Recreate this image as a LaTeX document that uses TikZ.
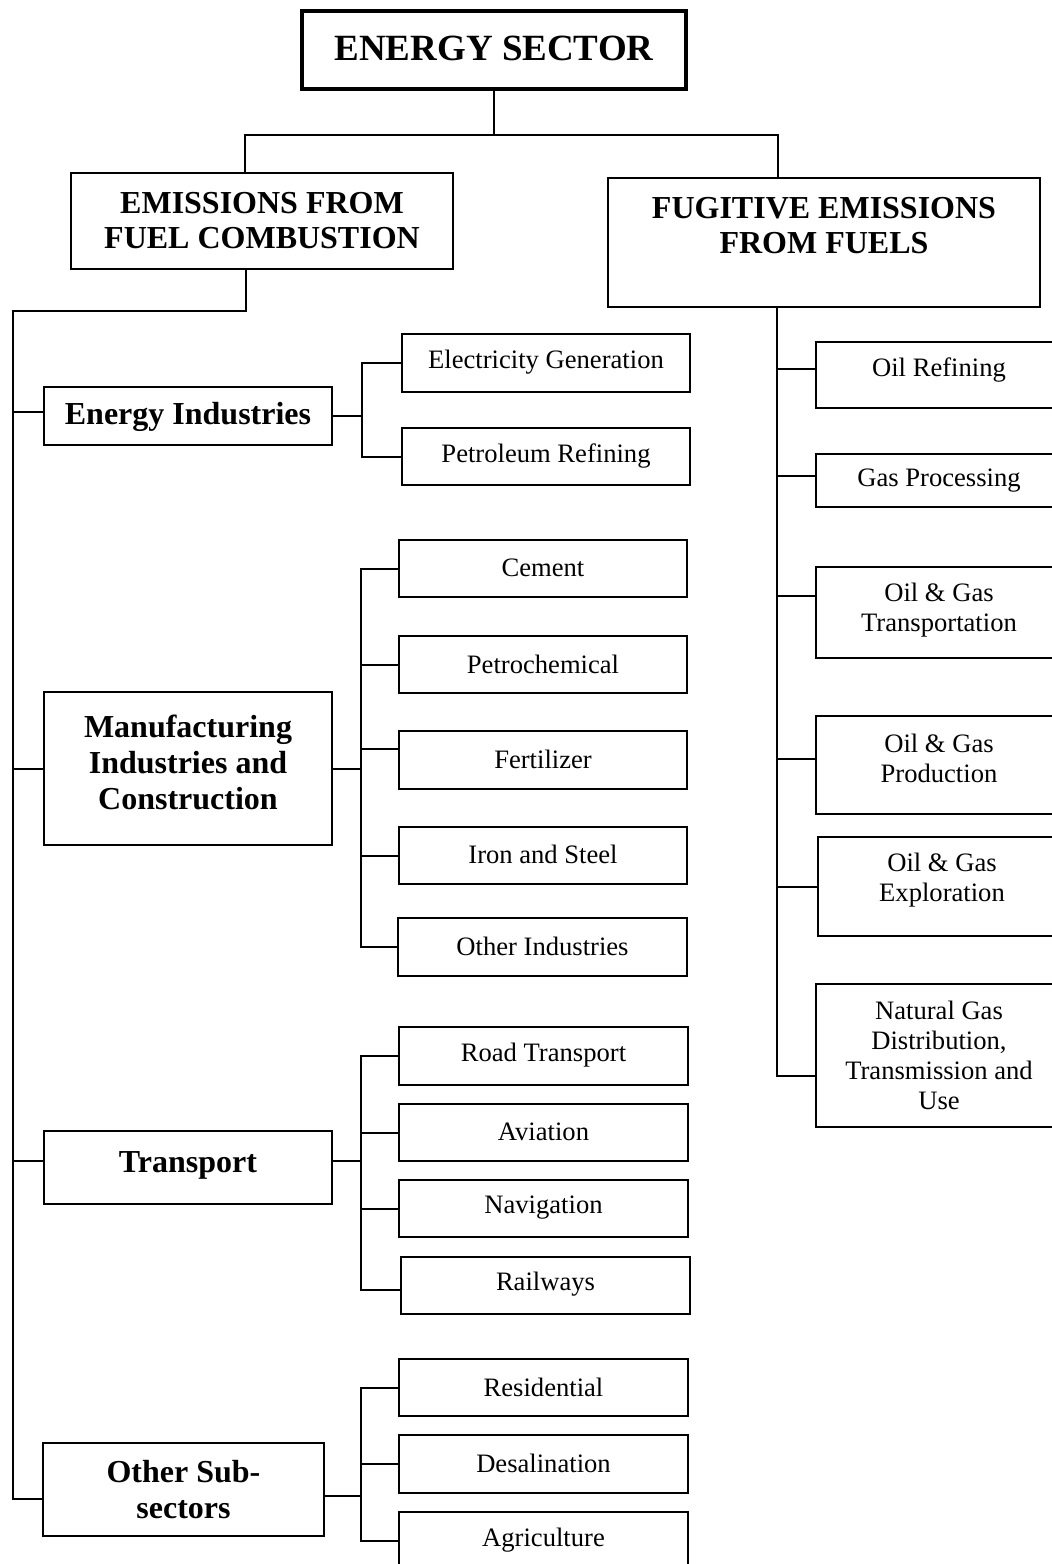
\documentclass[tikz,border=0pt]{standalone}
\usepackage{fontspec}
\setmainfont{Liberation Serif}
\tikzset{
  frame/.style={draw, line width=1pt, rectangle, inner sep=0pt},
  wire/.style={line width=1pt},
  subtxt/.style={font=\fontsize{13.3}{15}\selectfont, align=center, inner sep=0pt},
  grptxt/.style={font=\fontsize{16}{18}\selectfont\bfseries, align=center, inner sep=0pt},
  headtxt/.style={font=\fontsize{16}{17.5}\selectfont\bfseries, align=center, inner sep=0pt},
  titletxt/.style={font=\fontsize{18.5}{20}\selectfont\bfseries, align=center, inner sep=0pt},
}
% #1 name, #2-#5 corners (x1,y1,x2,y2), #6 text style, #7 text centre y, #8 text
\newcommand\mybox[8]{%
  \node[frame, minimum width={(#4-#2)*0.5pt}, minimum height={(#5-#3)*0.5pt}]
    (#1) at ({(#2+#4)/2},{(#3+#5)/2}) {};
  \node[#6] (#1-t) at ({(#2+#4)/2},#7) {#8};
}
\begin{document}
\begin{tikzpicture}[x=0.5pt,y=-0.5pt]
\fill[white] (0,0) rectangle (1052,1564);
\useasboundingbox (0,0) rectangle (1052,1564);
\clip (0,0) rectangle (1052,1564);

% top level
\node[frame, line width=1.8pt, minimum width=192pt, minimum height=39pt] (title) at (494,50) {};
\node[titletxt] (title-t) at (494,48) {ENERGY SECTOR};
\mybox{comb}{71}{173}{453}{269}{headtxt}{221}{EMISSIONS FROM\\FUEL COMBUSTION}
\mybox{fug}{608}{178}{1040}{307}{headtxt}{226}{FUGITIVE EMISSIONS\\FROM FUELS}

% fuel combustion categories
\mybox{enind}{44}{387}{332}{445}{grptxt}{417}{Energy Industries}
\mybox{manuf}{44}{692}{332}{845}{grptxt}{762}{Manufacturing\\Industries and\\Construction}
\mybox{transp}{44}{1131}{332}{1204}{grptxt}{1165}{Transport}
\mybox{other}{43}{1443}{324}{1536}{grptxt}{1490}{Other Sub-\\sectors}

% sub-categories
\mybox{elec}{402}{334}{690}{392}{subtxt}{362}{Electricity Generation}
\mybox{petref}{402}{428}{690}{485}{subtxt}{456}{Petroleum Refining}
\mybox{cement}{399}{540}{687}{597}{subtxt}{568}{Cement}
\mybox{petchem}{399}{636}{687}{693}{subtxt}{664}{Petrochemical}
\mybox{fert}{399}{731}{687}{789}{subtxt}{759}{Fertilizer}
\mybox{iron}{399}{827}{687}{884}{subtxt}{854}{Iron and Steel}
\mybox{othind}{398}{918}{687}{976}{subtxt}{946}{Other Industries}
\mybox{road}{399}{1027}{688}{1085}{subtxt}{1055}{Road Transport}
\mybox{avia}{399}{1104}{688}{1161}{subtxt}{1132}{Aviation}
\mybox{navi}{399}{1180}{688}{1237}{subtxt}{1208}{Navigation}
\mybox{rail}{401}{1257}{690}{1314}{subtxt}{1284}{Railways}
\mybox{resid}{399}{1359}{688}{1416}{subtxt}{1387}{Residential}
\mybox{desal}{399}{1435}{688}{1493}{subtxt}{1463}{Desalination}
\mybox{agri}{399}{1512}{688}{1570}{subtxt}{1540}{Agriculture}

% fugitive categories
\mybox{oilref}{816}{342}{1062}{408}{subtxt}{370}{Oil Refining}
\mybox{gasproc}{816}{454}{1062}{507}{subtxt}{481}{Gas Processing}
\mybox{ogtr}{816}{567}{1062}{658}{subtxt}{610}{Oil \& Gas\\Transportation}
\mybox{ogpr}{816}{716}{1062}{814}{subtxt}{758}{Oil \& Gas\\Production}
\mybox{ogex}{818}{837}{1066}{936}{subtxt}{880}{Oil \& Gas\\Exploration}
\mybox{natgas}{816}{984}{1062}{1127}{subtxt}{1055}{Natural Gas\\Distribution,\\Transmission and\\Use}

% top bus
\coordinate (tL) at (245,135);
\coordinate (tR) at (778,135);
\draw[wire] (title.south) -- (title.south |- tL);
\draw[wire] (tL |- comb.north) -- (tL) -- (tR) -- (tR |- fug.north);

% left bus
\coordinate (cdrop) at (246,311);
\coordinate (lbus) at (13,311);
\coordinate (enindL) at ([yshift=2pt]enind.west);
\coordinate (manufL) at (manuf.west);
\coordinate (transpL) at ([yshift=3.25pt]transp.west);
\coordinate (otherL) at ([yshift=-4.5pt]other.west);
\draw[wire] (cdrop |- comb.south) -- (cdrop) -- (lbus) -- (lbus |- otherL) -- (otherL);
\draw[wire] (lbus |- enindL) -- (enindL);
\draw[wire] (lbus |- manufL) -- (manufL);
\draw[wire] (lbus |- transpL) -- (transpL);

% energy industries branch
\coordinate (eb) at (362,0);
\draw[wire] (enind.east) -- (enind.east -| eb);
\draw[wire] (elec.west) -- (elec.west -| eb) -- (petref.west -| eb) -- (petref.west);

% manufacturing branch
\coordinate (mb) at (361,0);
\coordinate (fertL) at ([yshift=5.5pt]fert.west);
\draw[wire] (manuf.east) -- (manuf.east -| mb);
\draw[wire] (cement.west) -- (cement.west -| mb) -- (othind.west -| mb) -- (othind.west);
\draw[wire] (petchem.west -| mb) -- (petchem.west);
\draw[wire] (fertL -| mb) -- (fertL);
\draw[wire] (iron.west -| mb) -- (iron.west);

% transport branch
\coordinate (tb) at (361,0);
\coordinate (transpR) at ([yshift=3.25pt]transp.east);
\coordinate (railL) at ([yshift=-2pt]rail.west);
\draw[wire] (transpR) -- (transpR -| tb);
\draw[wire] (road.west) -- (road.west -| tb) -- (railL -| tb) -- (railL);
\draw[wire] (avia.west -| tb) -- (avia.west);
\draw[wire] (navi.west -| tb) -- (navi.west);

% other sub-sectors branch
\coordinate (ob) at (361,0);
\coordinate (otherR) at ([yshift=-3pt]other.east);
\draw[wire] (otherR) -- (otherR -| ob);
\draw[wire] (resid.west) -- (resid.west -| ob) -- (agri.west -| ob) -- (agri.west);
\draw[wire] (desal.west -| ob) -- (desal.west);

% fugitive bus
\coordinate (fb) at (777,0);
\coordinate (oilrefL) at ([yshift=3pt]oilref.west);
\coordinate (gasprocL) at ([yshift=2.5pt]gasproc.west);
\coordinate (ogtrL) at ([yshift=8.25pt]ogtr.west);
\coordinate (ogprL) at ([yshift=3pt]ogpr.west);
\coordinate (ogexL) at (ogex.west);
\coordinate (natgasL) at ([yshift=-10.35pt]natgas.west);
\draw[wire] (fb |- fug.south) -- (fb |- natgasL) -- (natgasL);
\draw[wire] (fb |- oilrefL) -- (oilrefL);
\draw[wire] (fb |- gasprocL) -- (gasprocL);
\draw[wire] (fb |- ogtrL) -- (ogtrL);
\draw[wire] (fb |- ogprL) -- (ogprL);
\draw[wire] (fb |- ogexL) -- (ogexL);
\end{tikzpicture}
\end{document}
